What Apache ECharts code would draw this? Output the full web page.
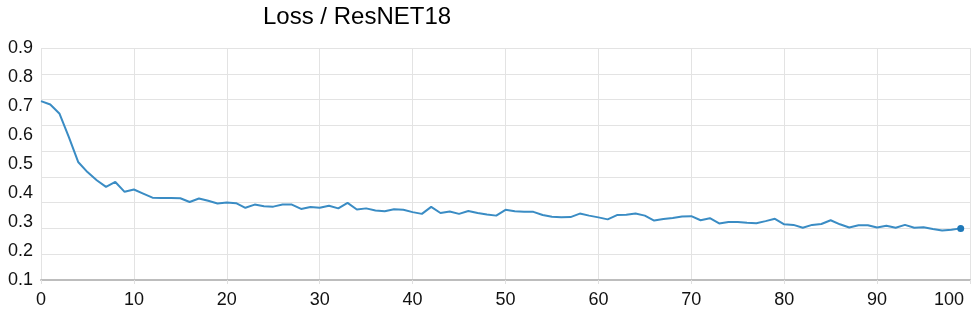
<!DOCTYPE html>
<html>
<head>
<meta charset="utf-8">
<script src="https://cdn.jsdelivr.net/npm/echarts@6/dist/echarts.min.js"></script>
<style>
html,body{margin:0;padding:0;background:#fff;}
#chart{width:973px;height:314px;}
</style>
</head>
<body>
<div id="chart"></div>
<script>
var epochs = [];
for (var i = 0; i < 100; i++) epochs.push(i);

var lossValues = [
  0.717, 0.705, 0.673, 0.593, 0.507, 0.472, 0.444, 0.421, 0.438, 0.404,
  0.412, 0.398, 0.384, 0.383, 0.383, 0.382, 0.369, 0.381, 0.373, 0.364,
  0.367, 0.365, 0.349, 0.360, 0.354, 0.353, 0.360, 0.360, 0.345, 0.352,
  0.349, 0.356, 0.347, 0.366, 0.343, 0.347, 0.340, 0.337, 0.344, 0.342,
  0.334, 0.328, 0.352, 0.331, 0.336, 0.328, 0.338, 0.331, 0.326, 0.322,
  0.342, 0.337, 0.335, 0.335, 0.324, 0.318, 0.316, 0.317, 0.329, 0.322,
  0.316, 0.309, 0.324, 0.325, 0.329, 0.322, 0.305, 0.310, 0.314, 0.319,
  0.320, 0.306, 0.313, 0.295, 0.300, 0.300, 0.297, 0.296, 0.303, 0.311,
  0.292, 0.290, 0.280, 0.290, 0.293, 0.306, 0.292, 0.281, 0.289, 0.289,
  0.281, 0.287, 0.280, 0.290, 0.280, 0.282, 0.276, 0.271, 0.273, 0.278
];

var yTickLabels = ['0.1','0.2','0.3','0.4','0.5','0.6','0.7','0.8','0.9'];
var xTickLabels = ['0','10','20','30','40','50','60','70','80','90','100'];
var titleText = 'Loss / ResNET18';

var seriesData = epochs.map(function (e, i) { return [e, lossValues[i]]; });
var lastIdx = seriesData.length - 1;

var font = 'Liberation Sans, Arial, sans-serif';
var chart = echarts.init(document.getElementById('chart'), null, {renderer: 'canvas'});
chart.setOption({
  animation: false,
  backgroundColor: '#ffffff',
  title: {
    text: titleText,
    left: 263,
    top: 5,
    padding: 0,
    textStyle: {fontFamily: font, fontSize: 24, fontWeight: 'normal', color: '#000'}
  },
  grid: {left: 41, right: 3, top: 48, bottom: 34, containLabel: false},
  xAxis: {
    type: 'value',
    min: 0, max: 100, interval: 10,
    axisLine: {show: true, lineStyle: {color: '#bdbdbd', width: 2}},
    axisTick: {show: true, length: 4, lineStyle: {color: '#e0e0e0'}},
    splitLine: {show: true, lineStyle: {color: '#e3e3e3', width: 1}},
    axisLabel: {
      fontFamily: font, fontSize: 18, color: '#111', margin: 11,
      alignMaxLabel: 'right',
      formatter: function (v) {
        var idx = Math.round(v / 10);
        var t = xTickLabels[idx] !== undefined ? xTickLabels[idx] : '';
        return idx === xTickLabels.length - 1 ? '{m|' + t + '}' : t;
      },
      rich: {m: {fontFamily: font, fontSize: 18, color: '#111', padding: [0, 6, 0, 0]}}
    }
  },
  yAxis: [{
    type: 'value',
    min: 0.1, max: 0.9, interval: 0.1,
    axisLine: {show: false},
    axisTick: {show: false},
    splitLine: {show: false},
    axisLabel: {
      fontFamily: font, fontSize: 18, color: '#111', margin: 8,
      formatter: function (v) { var idx = Math.round(v * 10) - 1; return yTickLabels[idx] !== undefined ? yTickLabels[idx] : ''; }
    }
  }, {
    type: 'value',
    position: 'left',
    min: 0, max: 9, interval: 1,
    axisLine: {show: false},
    axisTick: {show: false},
    axisLabel: {show: false},
    splitLine: {show: true, lineStyle: {color: '#e3e3e3', width: 1}}
  }],
  series: [{
    type: 'line',
    yAxisIndex: 0,
    data: seriesData,
    showSymbol: true,
    showAllSymbol: true,
    symbol: 'circle',
    symbolSize: function (val, params) { return params.dataIndex === lastIdx ? 7 : 0; },
    itemStyle: {color: '#1f78b8'},
    lineStyle: {color: '#3a8cc4', width: 2},
    silent: true
  }]
});
</script>
</body>
</html>
